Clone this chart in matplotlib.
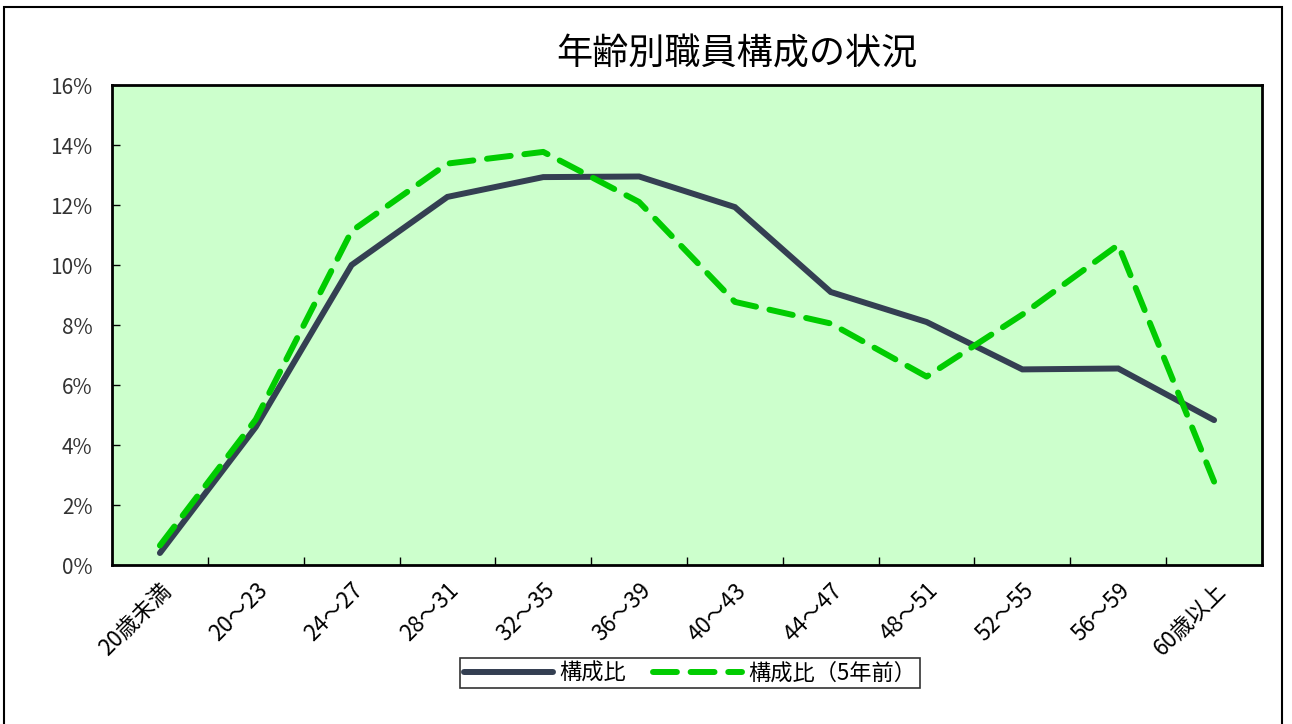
import numpy as np
import matplotlib
matplotlib.use("Agg")
import matplotlib.pyplot as plt
from matplotlib.patches import Rectangle
from matplotlib.ticker import FuncFormatter, MultipleLocator

plt.rcParams['font.family'] = ['Noto Sans CJK JP', 'DejaVu Sans']

''' data '''
categories = ["20歳未満", "20～23", "24～27", "28～31", "32～35", "36～39",
              "40～43", "44～47", "48～51", "52～55", "56～59", "60歳以上"]
ratio_now = [0.4, 4.6, 10.0, 12.27, 12.93, 12.95, 11.93, 9.1, 8.1, 6.52, 6.55, 4.83]
ratio_5y = [0.65, 4.85, 11.13, 13.38, 13.77, 12.1, 8.77, 8.05, 6.28, 8.35, 10.67, 2.78]

''' draw '''
fig = plt.figure(figsize=(12.92, 7.24), dpi=100)
ax = fig.add_axes([112 / 1292, 1 - 565 / 724, 1150 / 1292, 480 / 724])
ax.set_facecolor("#CCFFCC")

x = np.arange(len(categories))
ax.plot(x, ratio_now, color="#343F52", lw=4.3, solid_capstyle="round",
        solid_joinstyle="miter", label="構成比")
ax.plot(x, ratio_5y, color="#00CC00", lw=4.3, ls=(0, (4.0, 2.3)),
        dash_capstyle="round", label="構成比（5年前）")

ax.set_xlim(-0.5, len(categories) - 0.5)
ax.set_ylim(0, 16)
ax.yaxis.set_major_locator(MultipleLocator(2))
ax.yaxis.set_major_formatter(FuncFormatter(lambda v, p: "%d%%" % v))

# ticks between categories, labels at centres
ax.set_xticks(np.arange(0.5, len(categories) - 0.5), minor=False)
ax.set_xticklabels([])
ax.set_xticks(x, minor=True)
ax.set_xticklabels(categories, minor=True, rotation=45, ha="right",
                   rotation_mode="anchor", fontsize=16)
ax.tick_params(axis="x", which="minor", length=0, pad=10)
ax.tick_params(axis="x", which="major", direction="in", length=6, width=1)
ax.tick_params(axis="y", direction="in", length=6, width=1, labelsize=15,
               labelcolor="#333333", pad=14)
for s in ax.spines.values():
    s.set_linewidth(2)

fig.text(737 / 1292, 1 - 55 / 724, "年齢別職員構成の状況", fontsize=26,
         ha="center", va="center")

leg = fig.legend(loc="center", bbox_to_anchor=(690 / 1292, 1 - 673 / 724),
                 ncol=2, fontsize=16, frameon=True, fancybox=False,
                 edgecolor="black", handlelength=4.0, columnspacing=1.2,
                 borderpad=0.15, handletextpad=0.3, borderaxespad=0)
leg.get_frame().set_linewidth(1.2)

# outer chart border
fig.patches.append(Rectangle((4 / 1292, -0.05), 1278 / 1292, 1.05 - 7 / 724,
                             transform=fig.transFigure, fill=False,
                             edgecolor="black", lw=1.5))

plt.savefig("out.png", dpi=100)
